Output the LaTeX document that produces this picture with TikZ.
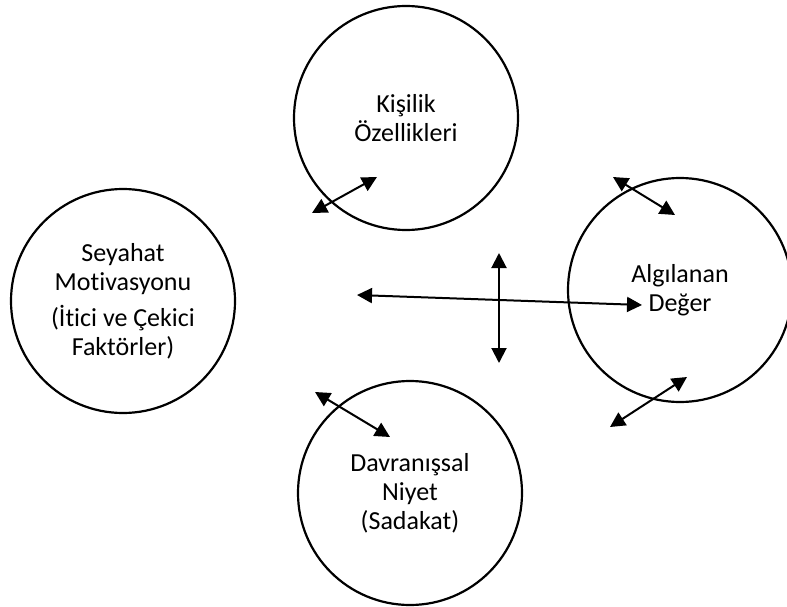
\documentclass[tikz,border=0pt]{standalone}
\usepackage{fontspec}
\setmainfont{Carlito}[Ligatures=NoCommon]
\usepackage{tikz}
\usetikzlibrary{arrows.meta, positioning}

\begin{document}
\begin{tikzpicture}[x=1pt,y=-1pt,
  bubble/.style={draw,circle,line width=2.2pt,minimum size=224pt,inner sep=0pt,align=center,font=\fontsize{26}{29}\selectfont},
  link/.style={>={Triangle[length=15pt,width=15pt]},<->,line width=2pt}]
\useasboundingbox (0,0) rectangle (787,607);

\node[bubble] (kisilik) at (406,118) {Kişilik\\Özellikleri};
\node[bubble] (motivasyon) at (123,301) {Seyahat\\Motivasyonu\\[7pt](İtici ve Çekici\\Faktörler)};
\node[bubble] (deger) at (680,290) {Algılanan\\Değer};
\node[bubble] (niyet) at (410,493) {Davranışsal\\Niyet\\(Sadakat)};

% arrow ends
\coordinate (k1) at (312,213);
\coordinate (k2) at (377,177);
\coordinate (d1) at (613,177);
\coordinate (d2) at (675,215);
\coordinate (d3) at (687,377);
\coordinate (d4) at (610,427);
\coordinate (n1) at (315,392);
\coordinate (n2) at (390,437);
\coordinate (h1) at (357,295);
\coordinate (h2) at (642,305);
\coordinate (v1) at (499,253);
\coordinate (v2) at (499,363);

\draw[link] (k1) -- (k2);
\draw[link] (d1) -- (d2);
\draw[link] (d3) -- (d4);
\draw[link] (n1) -- (n2);
\draw[link] (h1) -- (h2);
\draw[link] (v1) -- (v2);
\end{tikzpicture}
\end{document}
